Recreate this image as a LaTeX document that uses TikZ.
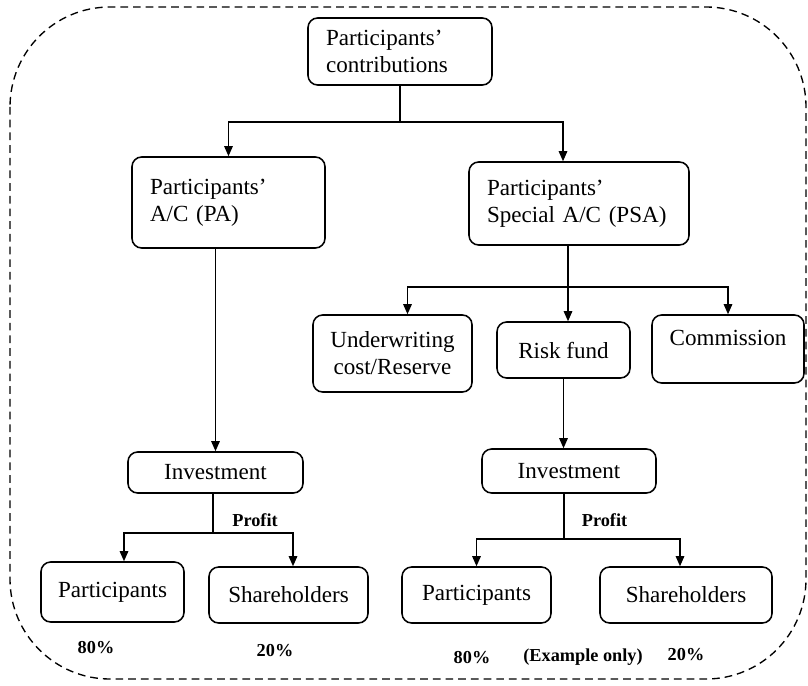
\documentclass[tikz,border=0pt]{standalone}
\usepackage{fontspec}
\setmainfont{Liberation Serif}
\usepackage{tikz}
\usetikzlibrary{arrows.meta,calc}

\def\pu{0.52pt}

\begin{document}
\begin{tikzpicture}[x=0.52pt,y=-0.52pt,
    box/.style={draw, line width=0.8pt, rounded corners=5pt, inner sep=0pt,
      font=\fontsize{12}{14}\selectfont, align=center},
    lbox/.style={box, align=left, text width=#1*\pu-36*\pu},
    arr/.style={line width=0.7pt, -{Triangle[length=5.2pt,width=4.4pt]}},
    lnk/.style={line width=0.7pt},
    small/.style={font=\fontsize{9.5}{11}\selectfont\bfseries}]
  \useasboundingbox (0,0) rectangle (808,685);
  \draw[line width=0.7pt, dash pattern=on 4pt off 2.6pt, rounded corners=52pt]
    (10,7) rectangle (806,679);

  % top level
  \node[lbox=184, minimum width=184*\pu, minimum height=67*\pu] (contrib) at (400,51.5)
    {Participants'\\contributions};
  \node[lbox=193, minimum width=193*\pu, minimum height=91*\pu] (pa) at (228.5,202.5)
    {Participants'\\A/C (PA)\\[17pt]};
  \node[lbox=220, minimum width=220*\pu, minimum height=83*\pu] (psa) at (579,203.5)
    {Participants'\\Special A/C (PSA)\\[8pt]};

  % PSA split
  \node[box, minimum width=159*\pu, minimum height=77*\pu] (uw) at (392.5,353.5)
    {Underwriting\\cost/Reserve};
  \node[box, minimum width=133*\pu, minimum height=56*\pu] (risk) at (563.5,350)
    {Risk fund};
  \node[box, minimum width=152*\pu, minimum height=68*\pu, text depth=12pt] (comm) at (728,349)
    {Commission};

  % investment
  \node[box, minimum width=175*\pu, minimum height=41*\pu] (invL) at (215.5,472.5) {Investment};
  \node[box, minimum width=174*\pu, minimum height=44*\pu] (invR) at (569,471) {Investment};

  % profit sharing
  \node[box, minimum width=143*\pu, minimum height=60*\pu] (partL) at (112.5,592) {Participants};
  \node[box, minimum width=159*\pu, minimum height=56*\pu] (shL) at (288.5,595) {Shareholders};
  \node[box, minimum width=149*\pu, minimum height=56*\pu] (partR) at (476.5,595) {Participants};
  \node[box, minimum width=172*\pu, minimum height=56*\pu] (shR) at (686,595) {Shareholders};

  \node[small] (profL) at (255,520) {Profit};
  \node[small] (profR) at (604.5,520) {Profit};
  \node[small] (pctL80) at (96,648) {80\%};
  \node[small] (pctL20) at (275,651) {20\%};
  \node[small] (pctR80) at (472,658) {80\%};
  \node[small] (exR) at (583,657) {(Example only)};
  \node[small] (pctR20) at (686,655) {20\%};

  \coordinate (split1) at (400,122);
  \coordinate (split2) at (568,287);
  \coordinate (split3) at (213,533);
  \coordinate (split4) at (564,539);

  \draw[lnk] (contrib.south) -- (split1);
  \draw[arr] (split1) -| (pa.north);
  \draw[arr] (split1) -| ($(psa.north)+(-16,0)$);
  \draw[arr] (pa.south -| invL.north) -- (invL.north);

  \draw[lnk] (psa.south -| split2) -- (split2);
  \draw[arr] (split2) -| ($(uw.north)+(15,0)$);
  \draw[arr] (split2) -- (split2 |- risk.north);
  \draw[arr] (split2) -| (comm.north);
  \draw[arr] (risk.south) -- (risk.south |- invR.north);

  \draw[lnk] (invL.south -| split3) -- (split3);
  \draw[arr] (split3) -| ($(partL.north)+(11.5,0)$);
  \draw[arr] (split3) -| ($(shL.north)+(4.5,0)$);
  \draw[lnk] (invR.south -| split4) -- (split4);
  \draw[arr] (split4) -| (partR.north);
  \draw[arr] (split4) -| ($(shR.north)+(-6,0)$);
\end{tikzpicture}
\end{document}
